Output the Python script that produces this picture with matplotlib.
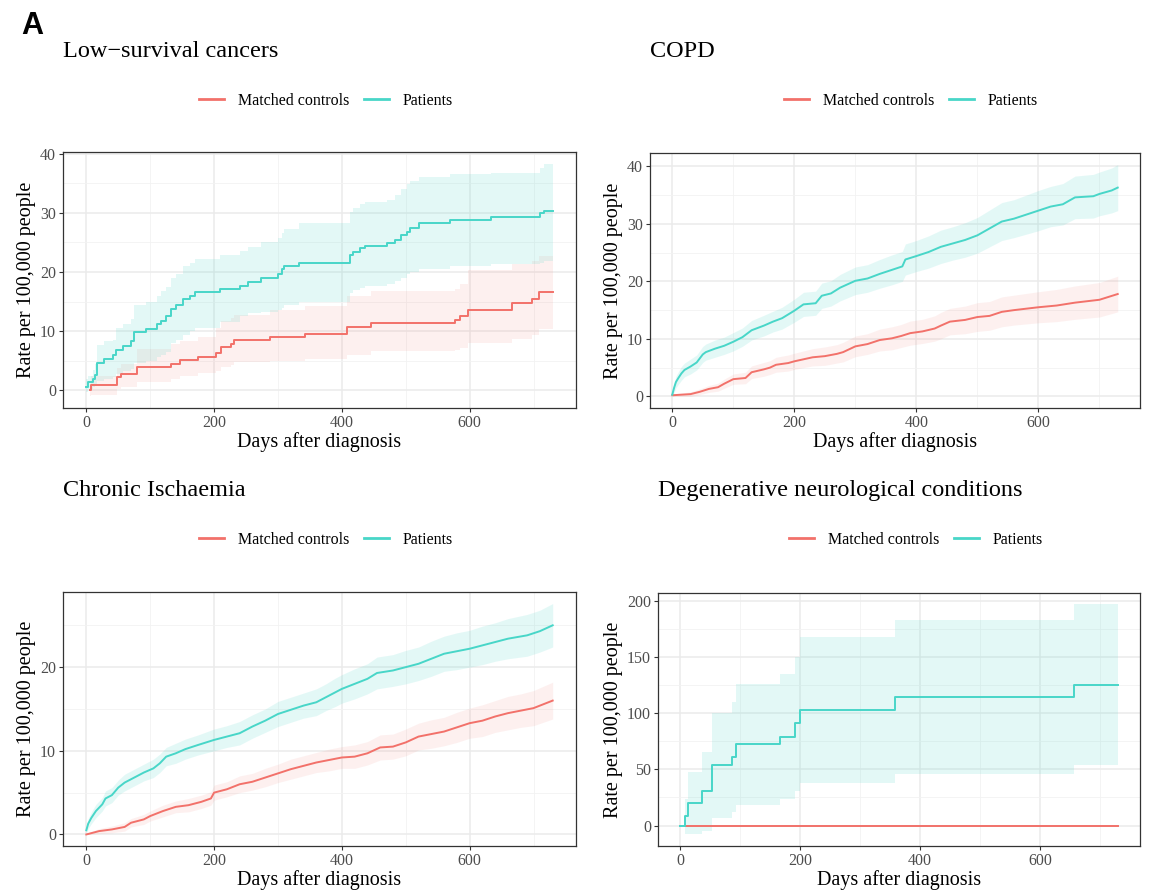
import numpy as np
import matplotlib
matplotlib.use("Agg")
import matplotlib.pyplot as plt
from matplotlib.lines import Line2D
from matplotlib.ticker import MultipleLocator

# ---- data ----
# Low-survival cancers (step curves)
lsc_pat_days = [0, 3, 10, 14, 17, 27, 42, 47, 57, 70, 75, 93, 110, 117, 125, 133, 140, 152, 162, 170,
                210, 240, 253, 273, 300, 306, 310, 333, 413, 418, 428, 437, 470, 483, 492, 502, 507, 520,
                570, 633, 710, 717, 730]
lsc_pat = [0.6, 1.5, 2.0, 2.6, 4.7, 5.3, 6.0, 6.9, 7.5, 8.3, 9.9, 10.4, 11.2, 11.8, 12.5, 13.8, 14.4, 15.4,
           16.0, 16.6, 17.2, 17.7, 18.3, 19.0, 19.7, 20.5, 21.0, 21.6, 22.8, 23.4, 24.0, 24.4, 24.9, 25.4,
           26.2, 26.8, 27.5, 28.2, 28.8, 29.3, 29.9, 30.3, 30.3]
lsc_pat_hi = [2.0, 2.5, 3.5, 4.5, 7.6, 8.3, 8.6, 10.5, 11.2, 12.0, 14.5, 15.0, 16.0, 16.8, 17.5, 19.0, 19.7,
              21.0, 21.6, 22.2, 22.8, 23.6, 24.3, 25.0, 25.8, 26.6, 27.2, 28.3, 30.2, 30.8, 31.5, 31.8,
              32.2, 33.0, 34.0, 34.8, 35.4, 36.0, 36.5, 36.8, 37.6, 38.3, 38.3]
lsc_pat_lo = [-0.3, 0.2, 0.5, 0.8, 1.6, 2.0, 2.3, 2.8, 3.2, 3.6, 4.6, 5.0, 5.6, 6.0, 6.5, 8.0, 8.5, 9.3,
              10.0, 10.5, 11.5, 12.5, 13.0, 13.3, 13.5, 14.0, 14.4, 15.0, 16.5, 16.9, 17.3, 17.6, 18.0,
              18.5, 19.0, 19.6, 20.0, 20.5, 21.0, 21.3, 21.6, 21.8, 21.8]
lsc_ctl_days = [5, 8, 48, 54, 80, 132, 146, 175, 203, 211, 227, 231, 288, 343, 408, 445, 577, 585, 597,
                666, 697, 709, 730]
lsc_ctl = [0.0, 0.9, 2.2, 2.7, 4.0, 4.5, 5.1, 5.7, 6.3, 7.3, 7.8, 8.5, 9.0, 9.5, 10.7, 11.4, 11.9, 12.6,
           13.6, 14.7, 15.4, 16.6, 16.6]
lsc_ctl_hi = [1.0, 2.5, 3.8, 4.5, 7.0, 7.8, 8.4, 9.0, 10.5, 11.8, 12.3, 12.8, 13.6, 14.3, 16.0, 16.8, 17.2,
              18.0, 20.3, 21.3, 21.8, 22.7, 22.7]
lsc_ctl_lo = [-1.0, -0.8, 0.2, 0.5, 1.4, 1.9, 2.4, 2.9, 3.3, 4.0, 4.3, 4.8, 5.0, 5.3, 6.0, 6.6, 6.8, 7.2,
              8.0, 8.7, 9.3, 10.3, 10.3]

# COPD
copd_pat_days = [0, 3, 6, 10, 15, 20, 30, 40, 50, 55, 70, 85, 100, 115, 130, 150, 165, 180, 200, 215,
                 235, 245, 260, 275, 300, 320, 340, 360, 377, 382, 400, 420, 440, 460, 480, 500, 520, 540,
                 560, 580, 600, 620, 640, 660, 690, 700, 720, 730]
copd_pat = [0.3, 1.5, 2.5, 3.2, 4.0, 4.6, 5.2, 5.9, 7.3, 7.7, 8.3, 8.8, 9.5, 10.3, 11.5, 12.3, 13.0, 13.6,
            14.9, 16.0, 16.2, 17.5, 17.9, 18.9, 20.1, 20.5, 21.3, 22.0, 22.6, 23.8, 24.4, 25.1, 26.0, 26.6,
            27.2, 28.0, 29.2, 30.4, 30.9, 31.6, 32.3, 33.0, 33.4, 34.6, 34.8, 35.2, 35.8, 36.3]
copd_pat_hi = [0.8, 2.3, 3.5, 4.3, 5.2, 5.8, 6.5, 7.2, 8.7, 9.1, 9.8, 10.3, 11.1, 11.9, 13.2, 14.1, 14.8,
               15.5, 16.9, 18.1, 18.3, 19.7, 20.1, 21.2, 22.5, 22.9, 23.8, 24.6, 25.2, 26.5, 27.1, 27.9,
               28.9, 29.5, 30.2, 31.1, 32.4, 33.7, 34.2, 35.0, 35.8, 36.5, 37.0, 38.3, 38.6, 39.0, 39.7, 40.3]
copd_pat_lo = [0.0, 0.7, 1.5, 2.1, 2.8, 3.4, 3.9, 4.6, 5.9, 6.3, 6.8, 7.3, 7.9, 8.7, 9.8, 10.5, 11.2, 11.7,
               12.9, 13.9, 14.1, 15.3, 15.7, 16.6, 17.7, 18.1, 18.8, 19.4, 20.0, 21.1, 21.7, 22.3, 23.1,
               23.7, 24.2, 24.9, 26.0, 27.1, 27.6, 28.2, 28.8, 29.5, 29.8, 30.9, 31.0, 31.4, 31.9, 32.3]
copd_ctl_days = [0, 30, 45, 60, 75, 85, 100, 120, 130, 150, 160, 170, 190, 200, 230, 250, 270, 280, 300,
                 320, 340, 360, 375, 390, 410, 430, 440, 455, 480, 500, 520, 540, 560, 600, 630, 660, 700, 730]
copd_ctl = [0.2, 0.4, 0.8, 1.3, 1.6, 2.2, 3.0, 3.2, 4.2, 4.7, 5.0, 5.5, 5.8, 6.1, 6.8, 7.0, 7.4, 7.7, 8.7,
            9.1, 9.8, 10.1, 10.5, 11.0, 11.3, 11.8, 12.3, 13.0, 13.3, 13.8, 14.0, 14.7, 15.0, 15.5, 15.8,
            16.3, 16.8, 17.8]
copd_ctl_hi = [0.4, 0.8, 1.3, 1.9, 2.3, 3.0, 3.9, 4.2, 5.3, 5.9, 6.2, 6.8, 7.2, 7.5, 8.3, 8.6, 9.0, 9.4,
               10.5, 10.9, 11.7, 12.1, 12.5, 13.1, 13.4, 14.0, 14.6, 15.3, 15.7, 16.3, 16.5, 17.3, 17.6,
               18.2, 18.6, 19.2, 19.8, 20.9]
copd_ctl_lo = [0.0, 0.0, 0.3, 0.7, 0.9, 1.4, 2.1, 2.2, 3.1, 3.5, 3.8, 4.2, 4.4, 4.7, 5.3, 5.4, 5.8, 6.0,
               6.9, 7.3, 7.9, 8.1, 8.5, 8.9, 9.2, 9.6, 10.0, 10.7, 10.9, 11.3, 11.5, 12.1, 12.4, 12.8, 13.0,
               13.4, 13.8, 14.7]

# Chronic Ischaemia
ci_pat_days = [0, 3, 8, 15, 25, 30, 40, 50, 60, 75, 90, 105, 115, 125, 140, 155, 175, 200, 220, 240,
               260, 280, 300, 320, 340, 360, 375, 390, 400, 420, 440, 455, 480, 500, 520, 540, 560, 580,
               600, 620, 640, 660, 690, 710, 730]
ci_pat = [0.5, 1.3, 2.0, 2.8, 3.6, 4.3, 4.7, 5.6, 6.2, 6.8, 7.4, 7.9, 8.5, 9.3, 9.7, 10.2, 10.7, 11.3,
          11.7, 12.1, 12.9, 13.6, 14.4, 14.9, 15.4, 15.8, 16.4, 17.0, 17.4, 18.0, 18.6, 19.3, 19.6, 20.0,
          20.4, 21.0, 21.6, 21.9, 22.2, 22.6, 23.0, 23.4, 23.8, 24.3, 25.0]
ci_pat_hi = [0.9, 1.9, 2.7, 3.6, 4.4, 5.2, 5.6, 6.5, 7.2, 7.8, 8.4, 9.0, 9.6, 10.4, 10.9, 11.4, 11.9, 12.6,
             13.0, 13.5, 14.3, 15.0, 15.9, 16.4, 16.9, 17.4, 18.0, 18.7, 19.1, 19.8, 20.4, 21.2, 21.5,
             22.0, 22.4, 23.1, 23.7, 24.1, 24.4, 24.9, 25.3, 25.8, 26.3, 26.8, 27.6]
ci_pat_lo = [0.1, 0.7, 1.3, 2.0, 2.8, 3.4, 3.8, 4.7, 5.2, 5.8, 6.4, 6.8, 7.4, 8.2, 8.5, 9.0, 9.5, 10.0,
             10.4, 10.7, 11.5, 12.2, 12.9, 13.4, 13.9, 14.2, 14.8, 15.3, 15.7, 16.2, 16.8, 17.4, 17.7,
             18.0, 18.4, 18.9, 19.5, 19.7, 20.0, 20.3, 20.7, 21.0, 21.3, 21.8, 22.4]
ci_ctl_days = [0, 20, 40, 60, 70, 90, 100, 120, 140, 160, 180, 195, 200, 220, 240, 260, 280, 300, 320,
               340, 360, 380, 400, 420, 440, 460, 480, 500, 520, 540, 560, 580, 600, 620, 640, 660, 680,
               700, 730]
ci_ctl = [0.0, 0.4, 0.6, 0.9, 1.4, 1.8, 2.2, 2.8, 3.3, 3.5, 3.9, 4.3, 5.0, 5.4, 6.0, 6.3, 6.8, 7.3, 7.8,
          8.2, 8.6, 8.9, 9.2, 9.3, 9.7, 10.4, 10.5, 11.0, 11.7, 12.0, 12.3, 12.8, 13.3, 13.6, 14.1, 14.5,
          14.8, 15.1, 16.0]
ci_ctl_hi = [0.1, 0.7, 1.0, 1.4, 1.9, 2.4, 2.8, 3.5, 4.0, 4.3, 4.7, 5.1, 5.9, 6.3, 7.0, 7.3, 7.9, 8.4,
             9.0, 9.4, 9.8, 10.2, 10.5, 10.7, 11.1, 11.9, 12.0, 12.6, 13.3, 13.7, 14.0, 14.6, 15.1, 15.5,
             16.0, 16.5, 16.8, 17.2, 18.2]
ci_ctl_lo = [0.0, 0.1, 0.2, 0.4, 0.9, 1.2, 1.6, 2.1, 2.6, 2.7, 3.1, 3.5, 4.1, 4.5, 5.0, 5.3, 5.7, 6.2,
             6.6, 7.0, 7.4, 7.6, 7.9, 7.9, 8.3, 8.9, 9.0, 9.4, 10.1, 10.3, 10.6, 11.0, 11.5, 11.7, 12.2,
             12.5, 12.8, 13.0, 13.8]

# Degenerative neurological conditions (step curves)
dnc_pat_days = [0, 8, 13, 36, 53, 87, 94, 167, 191, 200, 358, 656, 730]
dnc_pat = [0, 8.8, 20, 31, 54, 61, 72.5, 79, 91, 103, 114.5, 125.5, 125.5]
dnc_pat_hi = [0, 23.5, 47.5, 65.5, 100.5, 110.5, 126, 135, 150, 168, 183, 197, 197]
dnc_pat_lo = [0, -8, -8, -4.5, 6.5, 12, 18, 23.5, 31, 38, 45.5, 53.5, 53.5]
dnc_ctl_days = [8, 730]
dnc_ctl = [0, 0]

series_labels = ["Matched controls", "Patients"]
RED = "#F2716A"
TEAL = "#48D6C8"
ALPHA = {RED: 0.10, TEAL: 0.15}

plt.rcParams['font.family'] = ['Liberation Serif', 'DejaVu Serif']


def styleAxis(ax, ystep):
    ax.set_facecolor('white')
    ax.xaxis.set_major_locator(MultipleLocator(200))
    ax.xaxis.set_minor_locator(MultipleLocator(100))
    ax.yaxis.set_major_locator(MultipleLocator(ystep))
    ax.yaxis.set_minor_locator(MultipleLocator(ystep / 2))
    ax.grid(which='major', color='#EBEBEB', lw=1.1, zorder=0)
    ax.grid(which='minor', color='#F2F2F2', lw=0.6, zorder=0)
    ax.set_axisbelow(True)
    for s in ax.spines.values():
        s.set_color('#333333')
        s.set_linewidth(0.9)
    ax.tick_params(which='major', length=3, width=0.8, color='#333333',
                   labelsize=11.5, labelcolor='#4D4D4D', pad=2)
    ax.tick_params(which='minor', length=0)
    ax.set_xlabel("Days after diagnosis", fontsize=14.5, labelpad=1)
    ax.set_ylabel("Rate per 100,000 people", fontsize=14.5, labelpad=3)
    ax.margins(x=0.05, y=0.05)


def drawPanel(ax, curves, stepped):
    for days, vals, lo, hi, color in curves:
        if lo is not None:
            if stepped:
                ax.fill_between(days, lo, hi, step='post', color=color, alpha=ALPHA[color], lw=0)
            else:
                ax.fill_between(days, lo, hi, color=color, alpha=ALPHA[color], lw=0)
        if stepped:
            ax.step(days, vals, where='post', color=color, lw=1.4)
        else:
            ax.plot(days, vals, color=color, lw=1.4)


W, H = 1153, 894
fig = plt.figure(figsize=(W / 100, H / 100), dpi=100)


def box(l, t, r, b):
    return [l / W, 1 - b / H, (r - l) / W, (b - t) / H]


panels = [
    ("Low\u2212survival cancers", box(63, 152, 576, 408), 10, True,
     [(lsc_ctl_days, lsc_ctl, lsc_ctl_lo, lsc_ctl_hi, RED),
      (lsc_pat_days, lsc_pat, lsc_pat_lo, lsc_pat_hi, TEAL)], (63, 57), (326, 101)),
    ("COPD", box(650, 153, 1140, 408), 10, False,
     [(copd_ctl_days, copd_ctl, copd_ctl_lo, copd_ctl_hi, RED),
      (copd_pat_days, copd_pat, copd_pat_lo, copd_pat_hi, TEAL)], (650, 57), (911, 101)),
    ("Chronic Ischaemia", box(63, 592, 576, 846), 10, False,
     [(ci_ctl_days, ci_ctl, ci_ctl_lo, ci_ctl_hi, RED),
      (ci_pat_days, ci_pat, ci_pat_lo, ci_pat_hi, TEAL)], (63, 496), (326, 540)),
    ("Degenerative neurological conditions", box(658, 593, 1140, 846), 50, True,
     [(dnc_ctl_days, dnc_ctl, None, None, RED),
      (dnc_pat_days, dnc_pat, dnc_pat_lo, dnc_pat_hi, TEAL)], (658, 496), (916, 540)),
]

for title, rect, ystep, stepped, curves, tpos, lpos in panels:
    ax = fig.add_axes(rect)
    drawPanel(ax, curves, stepped)
    styleAxis(ax, ystep)
    fig.text(tpos[0] / W, 1 - tpos[1] / H, title, fontsize=17.5, va='baseline', ha='left')
    handles = [Line2D([], [], color=RED, lw=2), Line2D([], [], color=TEAL, lw=2)]
    fig.legend(handles, series_labels, loc='center', bbox_to_anchor=(lpos[0] / W, 1 - lpos[1] / H),
               ncol=2, frameon=False, fontsize=11.5, handlelength=1.6, handletextpad=0.85,
               columnspacing=0.9, borderpad=0, borderaxespad=0)

fig.text(21 / W, 1 - 34 / H, "A", fontsize=22, fontweight='bold', family='Liberation Sans',
         va='baseline', ha='left')

fig.savefig("out.png", dpi=100)
